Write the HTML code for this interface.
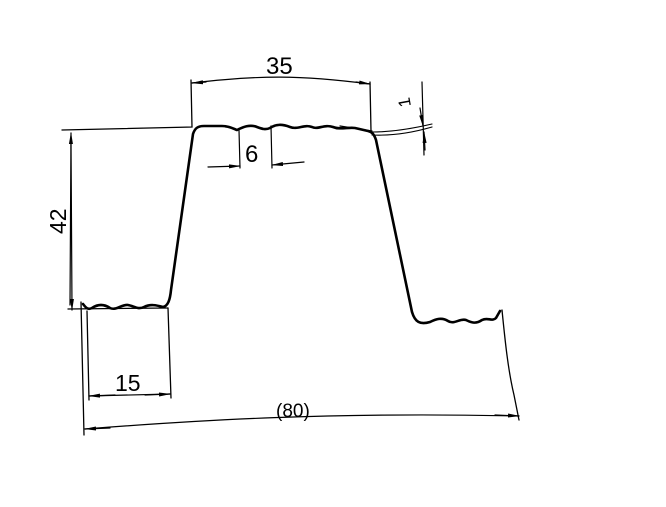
<!DOCTYPE html>
<html><head><meta charset="utf-8"><style>html,body{margin:0;padding:0;background:#fff;}svg{display:block}</style></head>
<body>
<svg width="666" height="507" viewBox="0 0 666 507" xmlns="http://www.w3.org/2000/svg">
<defs>
<marker id="a" markerWidth="12" markerHeight="6" refX="11" refY="3" orient="auto" markerUnits="userSpaceOnUse">
<path d="M0,1 L12,3 L0,5 Z" fill="#000"/></marker>
</defs>
<g fill="none" stroke="#000" stroke-linecap="round">
<path stroke-width="2.6" d="M83,304 C86,308 88,310 92,308 C98,304 104,304 110,308 C116,311 122,304 128,305 C134,306 138,310 144,307 C150,304 156,305 163,307 C168,306 170,300 171,290 L193,134 C195,128 198,126 204,126 L222,126 C228,126 232,128 237,130 C243,127 250,124 257,127 C262,129 266,130 270,128 C276,124 282,124 290,127 C298,130 304,124 312,127 C318,130 324,124 333,127 C340,130 348,127 355,128 L368,131 C372,132 374,134 376,140 L412,312 C415,322 420,325 430,322 C436,319 442,317 448,321 C454,325 460,318 466,320 C472,323 476,324 482,320 C488,317 492,322 496,318 L500,311"/>
<path stroke-width="1.2" d="M340,126 L372,131"/>
<path stroke-width="1.3" d="M62,130 L192,127 L191,80"/>
<path stroke-width="1.3" d="M370,82 L371,131"/>
<path stroke-width="1.2" d="M192,83 C260,75 300,75 370,84"/>
<path stroke-width="1.2" d="M206,82 L192,83" marker-end="url(#a)"/>
<path stroke-width="1.2" d="M356,82 L370,84" marker-end="url(#a)"/>
<path stroke-width="1.2" d="M239,130 L240,168 M271,126 L272,168"/>
<path stroke-width="1.2" d="M208,167 L240,166" marker-end="url(#a)"/>
<path stroke-width="1.2" d="M304,162 L272,165" marker-end="url(#a)"/>
<path stroke-width="1.2" d="M422,82 L424,155"/>
<path stroke-width="1.2" d="M420,108 L423,126" marker-end="url(#a)"/>
<path stroke-width="1.2" d="M425,150 L424,132" marker-end="url(#a)"/>
<path stroke-width="1.1" d="M372,135 C395,136 415,132 432,127 M372,132 C395,132 415,128 432,124"/>
<path stroke-width="1.2" d="M70,305 L71,133" marker-end="url(#a)"/>
<path stroke-width="1.2" d="M71,140 L72,310" marker-end="url(#a)"/>
<path stroke-width="1.3" d="M68,309 L168,308"/>
<path stroke-width="1.3" d="M87,311 L89,400 M168,308 L171,398"/>
<path stroke-width="1.2" d="M115,395 L89,396" marker-end="url(#a)"/>
<path stroke-width="1.2" d="M145,395 L170,394" marker-end="url(#a)"/>
<path stroke-width="1.2" d="M89,396 L170,394"/>
<path stroke-width="1.3" d="M81,302 L84,435"/>
<path stroke-width="1.3" d="M502,310 C505,340 508,370 514,395 L519,420"/>
<path stroke-width="1.2" d="M85,429 C200,420 330,412 519,416"/>
<path stroke-width="1.2" d="M110,428 L85,429" marker-end="url(#a)"/>
<path stroke-width="1.2" d="M495,415 L519,416" marker-end="url(#a)"/>
</g>
<g font-family="Liberation Sans Narrow, Liberation Sans, sans-serif" fill="#000">
<text x="266" y="74" font-size="24">35</text>
<text x="245" y="162" font-size="24">6</text>
<text x="115" y="391" font-size="23">15</text>
<text x="276" y="417" font-size="19">(80)</text>
<text transform="translate(66,234) rotate(-90)" font-size="23">42</text>
<text transform="translate(411,106) rotate(-100)" font-size="17">1</text>
</g>
</svg>
</body></html>
